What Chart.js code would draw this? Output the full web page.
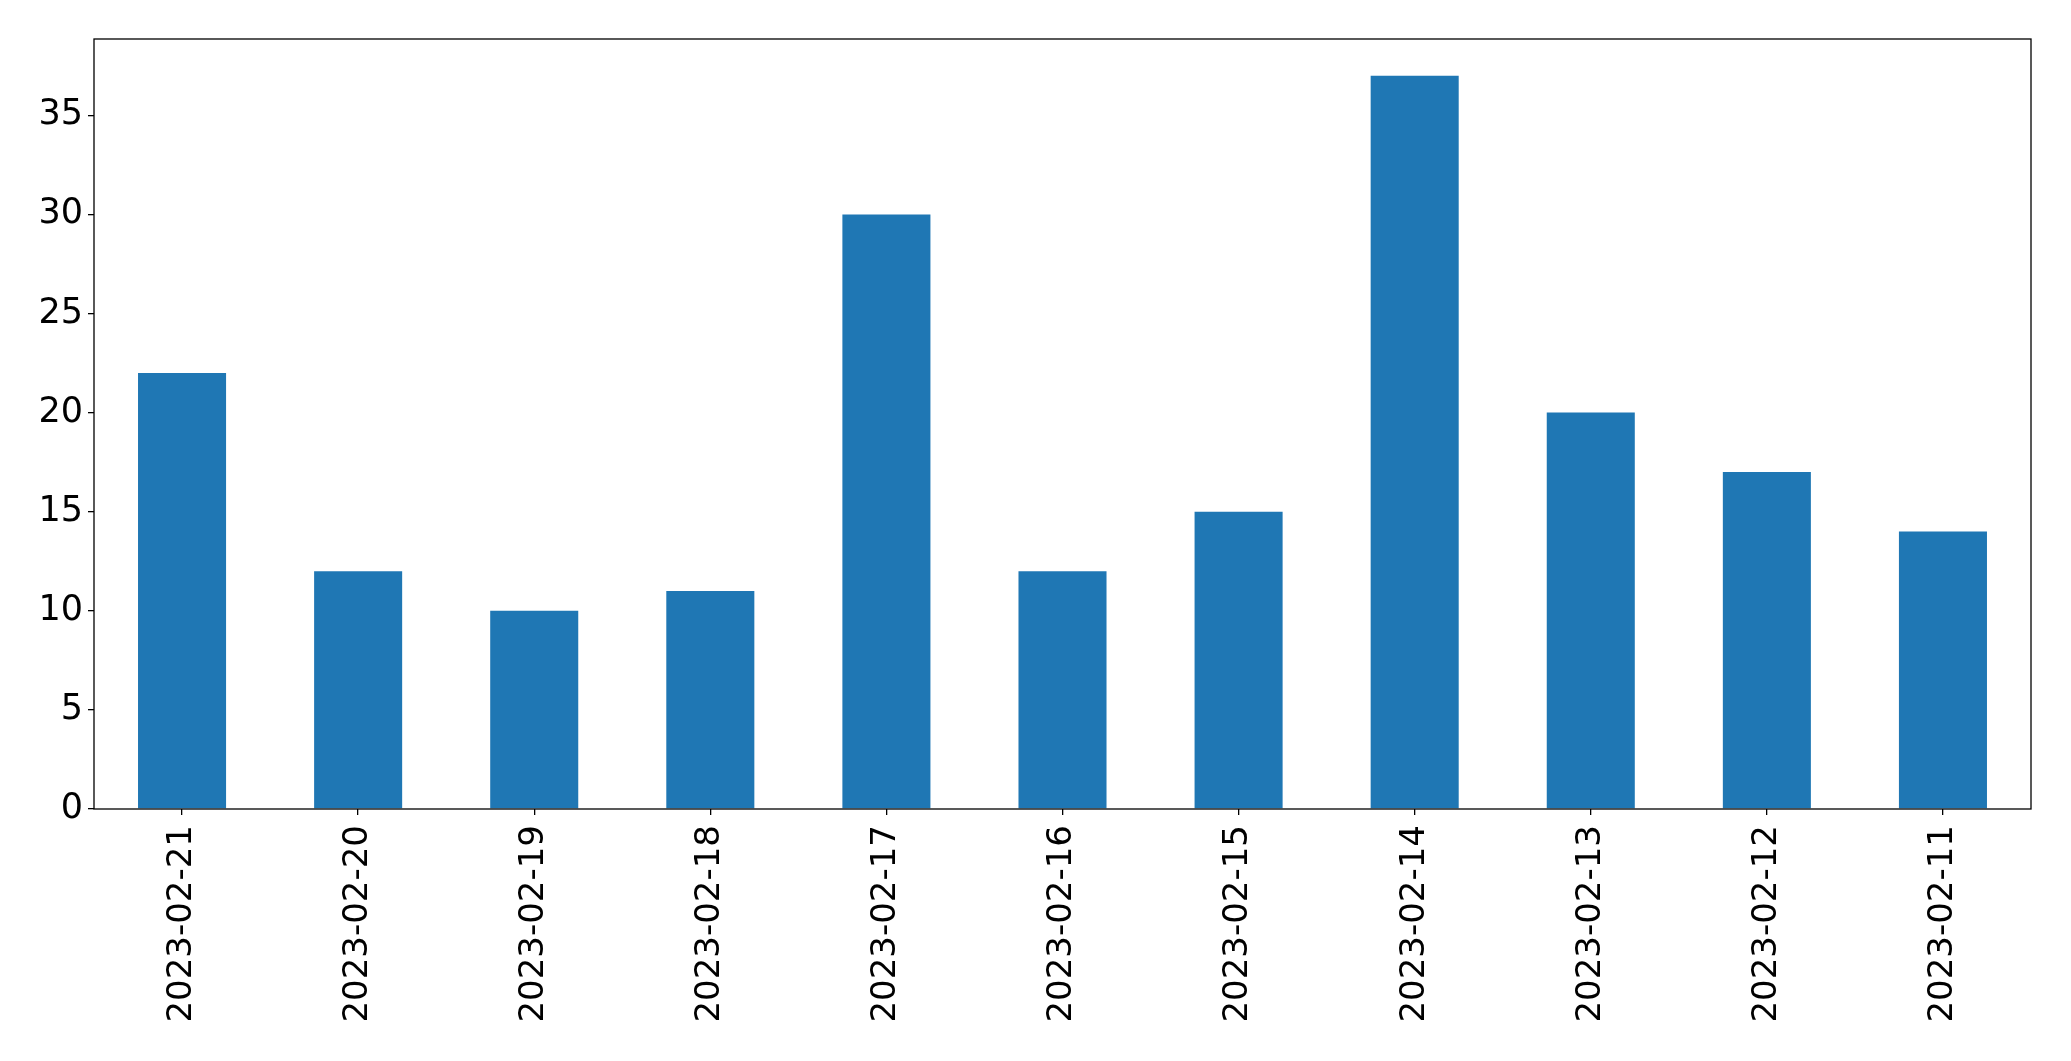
<!DOCTYPE html>
<html>
<head>
<meta charset="utf-8">
<script src="https://cdn.jsdelivr.net/npm/chart.js@4"></script>
<style>
  body { margin: 0; background: #fff; }
  canvas { display: block; }
</style>
</head>
<body>
<canvas id="myChart" width="2071" height="1061"></canvas>
<script>
const dates = ['2023-02-21', '2023-02-20', '2023-02-19', '2023-02-18', '2023-02-17', '2023-02-16',
    '2023-02-15', '2023-02-14', '2023-02-13', '2023-02-12', '2023-02-11'];
const counts = [22, 12, 10, 11, 30, 12, 15, 37, 20, 17, 14];
const yTicks = [0, 5, 10, 15, 20, 25, 30, 35];

// matplotlib-style axes box
const frame = {
    id: 'frame',
    afterDraw(chart) {
        const a = chart.chartArea;
        const c = chart.ctx;
        c.save();
        c.strokeStyle = '#000';
        c.lineWidth = 1.3;
        c.strokeRect(a.left, a.top, a.right - a.left, a.bottom - a.top);
        c.restore();
    }
};

var ctx = document.getElementById('myChart').getContext('2d');

var chart = new Chart(ctx, {
    type: 'bar',
    data: {
        labels: dates,
        datasets: [{
            data: counts,
            backgroundColor: '#1f77b4',
            borderWidth: 0,
            categoryPercentage: 1.0,
            barPercentage: 0.5
        }]
    },
    plugins: [frame],
    options: {
        responsive: false,
        animation: false,
        layout: { padding: { top: 39, right: 40, left: 0, bottom: 0 } },
        plugins: { legend: { display: false }, tooltip: { enabled: false } },
        scales: {
            x: {
                offset: true,
                border: { display: false },
                grid: { offset: false, drawOnChartArea: false, tickLength: 6, color: '#000', lineWidth: 1.3 },
                ticks: {
                    color: '#000',
                    font: { family: 'DejaVu Sans', size: 34 },
                    minRotation: 90,
                    maxRotation: 90,
                    padding: 10,
                    autoSkip: false
                },
                afterFit: (axis) => { axis.height = 252; }
            },
            y: {
                min: 0,
                max: 38.85,
                border: { display: false },
                grid: { drawOnChartArea: false, tickLength: 6, color: '#000', lineWidth: 1.3 },
                afterBuildTicks: (axis) => { axis.ticks = yTicks.map(v => ({ value: v })); },
                ticks: {
                    color: '#000',
                    font: { family: 'DejaVu Sans', size: 35 },
                    padding: 5
                },
                afterFit: (axis) => { axis.width = 94; }
            }
        }
    }
});
</script>
</body>
</html>
